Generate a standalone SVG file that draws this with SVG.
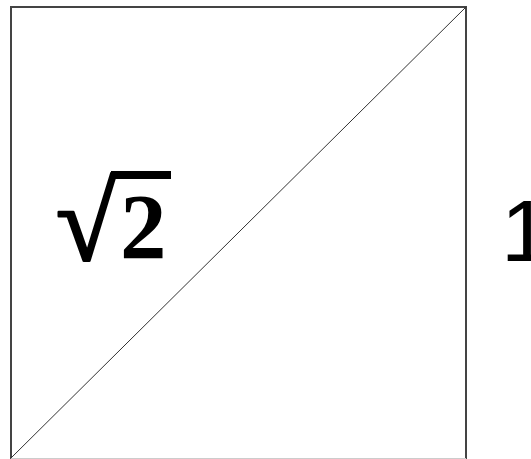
<svg xmlns="http://www.w3.org/2000/svg" width="531" height="459" viewBox="0 0 531 459">
<style>
.edge{stroke:#444;stroke-width:2;fill:none}
.diag{stroke:#333;stroke-width:1;fill:none}
.lbl{font-family:"Liberation Sans",Arial,sans-serif;fill:#000}
.math{font-family:"Liberation Serif","Times New Roman",serif;fill:#000;font-weight:bold}
</style>
<rect width="531" height="459" fill="#fff"/>
<g id="square">
<path class="edge" d="M11,459 L11,7 L466,7 L466,459"/>
<line x1="11" y1="458.5" x2="466" y2="458.5" stroke="#ccc" stroke-width="1"/>
</g>
<g id="connectors">
<line class="diag" x1="11" y1="458" x2="466" y2="7"/>
</g>
<g id="label-sqrt2">
<text class="math" x="56" y="260" font-size="110" stroke="#000" stroke-width="2.5" stroke-linejoin="round">√</text>
<rect x="111" y="171" width="60" height="8" fill="#000"/>
<text class="math" x="120" y="258" font-size="93">2</text>
</g>
<g id="label-1">
<text class="lbl" x="501" y="261" font-size="88">1</text>
</g>
</svg>
